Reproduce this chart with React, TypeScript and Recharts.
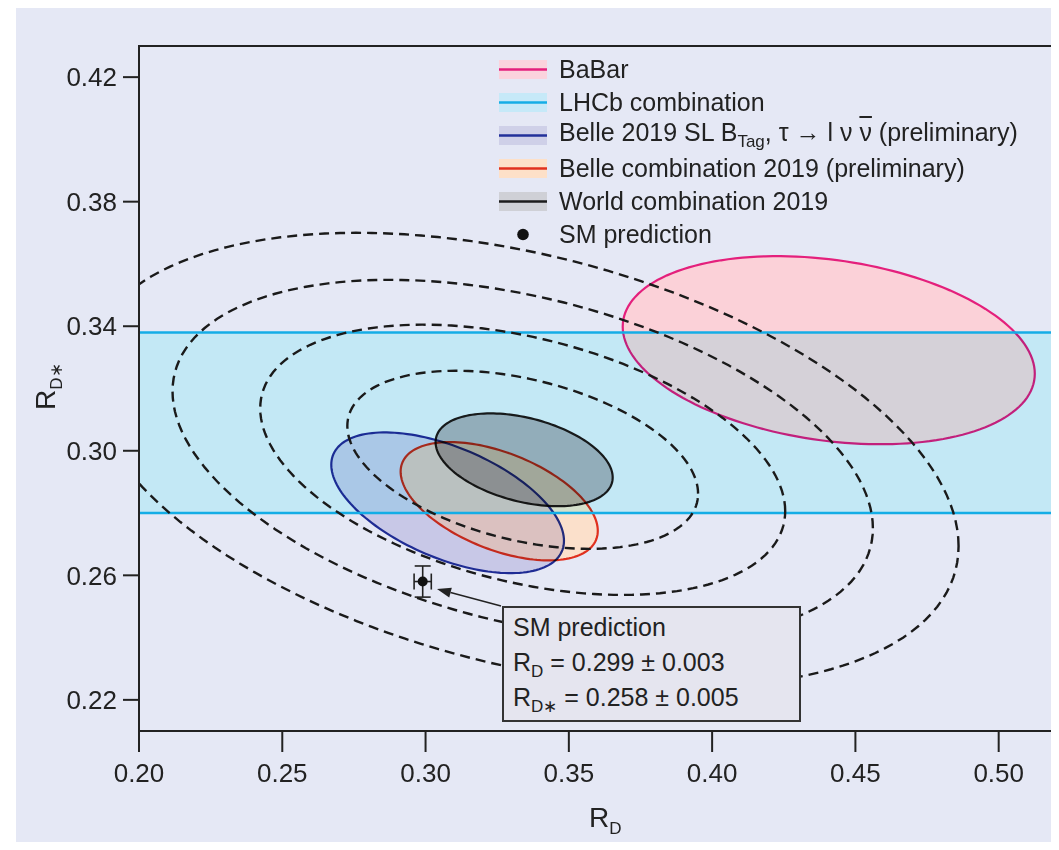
import React from "react";
import { ScatterChart, Scatter, XAxis, YAxis, CartesianGrid, ErrorBar } from "recharts";

const FONT = "'Liberation Sans', Arial, sans-serif";

const xTicks = [0.2, 0.25, 0.3, 0.35, 0.4, 0.45, 0.5];
const yTicks = [0.22, 0.26, 0.3, 0.34, 0.38, 0.42];
const xDomain = [0.2, 0.52];
const yDomain = [0.21, 0.43];

// 1 sigma ellipses: BaBar, Belle 2019 SL, Belle combination 2019, World combination 2019
const measRD = [0.4407, 0.3077, 0.3257, 0.3344];
const measRDstar = [0.3323, 0.2833, 0.2838, 0.2971];
const measErrRD = [0.0719, 0.0406, 0.0344, 0.0309];
const measErrRDstar = [0.0302, 0.0226, 0.019, 0.0149];
const measRho = [-0.25, -0.54, -0.5, -0.38];

// dashed contours around the world average
const contourRD = [0.3339, 0.3339, 0.3339, 0.3339];
const contourRDstar = [0.2971, 0.2971, 0.2971, 0.2971];
const contourErrRD = [0.0612, 0.0916, 0.1222, 0.1521];
const contourErrRDstar = [0.0286, 0.0434, 0.0578, 0.0729];
const contourRho = [-0.38, -0.38, -0.38, -0.38];

// LHCb R(D*) band
const lhcbRange = [0.28, 0.338];

const smPrediction = [{ x: 0.299, y: 0.258, ex: 0.003, ey: 0.005 }];

const legendLabels = [
  "BaBar",
  "LHCb combination",
  "Belle 2019 SL B_{Tag}, τ → l ν ~{ν} (preliminary)",
  "Belle combination 2019 (preliminary)",
  "World combination 2019",
  "SM prediction",
];

// drawing order and look of the filled ellipses
const drawOrder = [0, 2, 1, 3];
const measStyle = [
  { stroke: "#e4207c", fill: "rgba(255,205,210,0.85)", blend: "normal" },
  { stroke: "#22309a", fill: "rgb(223,220,241)", blend: "multiply" },
  { stroke: "#e0301e", fill: "rgba(255,222,195,0.85)", blend: "normal" },
  { stroke: "#1c1c1c", fill: "rgb(192,190,194)", blend: "multiply" },
];

const legendStyle = [
  { band: "#fbd3dd", line: "#e4207c" },
  { band: "#c6e9f8", line: "#14ade6" },
  { band: "#cfd0e8", line: "#22309a" },
  { band: "#fde0c8", line: "#e0301e" },
  { band: "#cfd0d6", line: "#1c1c1c" },
];

function ellipse(cx: number, cy: number, sx: number, sy: number, rho: number) {
  const pts = [];
  const k = Math.sqrt(1 - rho * rho);
  const n = 160;
  for (let i = 0; i <= n; i++) {
    const t = (2 * Math.PI * i) / n;
    pts.push({ x: cx + sx * Math.cos(t), y: cy + sy * (rho * Math.cos(t) + k * Math.sin(t)) });
  }
  return pts;
}

const bandData = [
  { x: xDomain[0], y: lhcbRange[0] },
  { x: xDomain[1], y: lhcbRange[0] },
  { x: xDomain[1], y: lhcbRange[1] },
  { x: xDomain[0], y: lhcbRange[1] },
];
const bandEdges = lhcbRange.map((y) => [
  { x: xDomain[0], y },
  { x: xDomain[1], y },
]);

const poly =
  (stroke: string, fill: string, width: number, opts: { dash?: string; blend?: string; open?: boolean } = {}) =>
  (props: any) => {
    const pts = props.points || [];
    const d = pts.map((p: any, i: number) => `${i ? "L" : "M"}${p.x},${p.y}`).join("") + (opts.open ? "" : "Z");
    return (
      <path
        d={d}
        fill={fill}
        stroke={stroke}
        strokeWidth={width}
        strokeDasharray={opts.dash}
        style={{ mixBlendMode: (opts.blend || "normal") as any }}
      />
    );
  };

const noDot = () => <g />;
const smDot = (p: any) => <circle cx={p.cx} cy={p.cy} r={5} fill="#111" />;

function richLabel(s: string) {
  return s.split(/(_\{[^}]*\}|~\{[^}]*\})/).map((part, i) => {
    if (part.startsWith("_{"))
      return (
        <sub key={i} style={{ fontSize: 17, verticalAlign: -6 }}>
          {part.slice(2, -1)}
        </sub>
      );
    if (part.startsWith("~{"))
      return (
        <span key={i} style={{ textDecoration: "overline" }}>
          {part.slice(2, -1)}
        </span>
      );
    return <span key={i}>{part}</span>;
  });
}

function Arrow({ x1, y1, x2, y2 }: { x1: number; y1: number; x2: number; y2: number }) {
  const dx = x2 - x1,
    dy = y2 - y1;
  const len = Math.sqrt(dx * dx + dy * dy);
  const ux = dx / len,
    uy = dy / len;
  const bx = x2 - 14 * ux,
    by = y2 - 14 * uy;
  const nx = -uy * 5,
    ny = ux * 5;
  return (
    <g>
      <line x1={x1} y1={y1} x2={bx} y2={by} stroke="#222" strokeWidth={1.5} />
      <polygon points={`${x2},${y2} ${bx + nx},${by + ny} ${bx - nx},${by - ny}`} fill="#222" />
    </g>
  );
}

export default function App() {
  const axisStroke = { stroke: "#222", strokeWidth: 2 };
  const tickStyle = { fontSize: 26, fill: "#222", fontFamily: FONT };
  return (
    <div style={{ position: "relative", width: 1059, height: 850, margin: -8, background: "#fff", overflow: "hidden" }}>
      <div style={{ position: "absolute", left: 16, top: 7, right: 0, bottom: 0, background: "#e5e8f5" }} />
      <div style={{ position: "absolute", left: 0, top: 0 }}>
        <ScatterChart width={1059} height={850} margin={{ top: 46, right: 3, bottom: 59, left: 59 }}>
          <CartesianGrid fill="#e5e8f5" horizontal={false} vertical={false} />
          <XAxis
            type="number"
            dataKey="x"
            domain={xDomain}
            ticks={xTicks}
            interval={0}
            tickFormatter={(v: number) => v.toFixed(2)}
            tickSize={21}
            tickMargin={12}
            height={60}
            axisLine={axisStroke}
            tickLine={axisStroke}
            tick={tickStyle}
          />
          <XAxis xAxisId="clip" type="number" dataKey="x" domain={xDomain} allowDataOverflow hide />
          <YAxis
            type="number"
            dataKey="y"
            domain={yDomain}
            ticks={yTicks}
            interval={0}
            tickFormatter={(v: number) => v.toFixed(2)}
            tickSize={16}
            tickMargin={6}
            width={80}
            axisLine={axisStroke}
            tickLine={axisStroke}
            tick={tickStyle}
          />
          {drawOrder.map((i) => (
            <Scatter
              key={"m" + i}
              data={ellipse(measRD[i], measRDstar[i], measErrRD[i], measErrRDstar[i], measRho[i])}
              shape={noDot}
              line={poly(measStyle[i].stroke, measStyle[i].fill, 2.2, { blend: measStyle[i].blend })}
              isAnimationActive={false}
            />
          ))}
          <Scatter
            data={bandData}
            shape={noDot}
            line={poly("none", "rgb(217,255,255)", 0, { blend: "multiply" })}
            isAnimationActive={false}
          />
          {bandEdges.map((edge, i) => (
            <Scatter
              key={"e" + i}
              data={edge}
              shape={noDot}
              line={poly("#14ade6", "none", 2.5, { open: true })}
              isAnimationActive={false}
            />
          ))}
          {contourRD.map((cx, i) => (
            <Scatter
              key={"c" + i}
              xAxisId="clip"
              data={ellipse(cx, contourRDstar[i], contourErrRD[i], contourErrRDstar[i], contourRho[i])}
              shape={noDot}
              line={poly("#1a1a1a", "none", 2.4, { dash: "10 6" })}
              isAnimationActive={false}
            />
          ))}
          <Scatter data={smPrediction} shape={smDot} isAnimationActive={false}>
            <ErrorBar dataKey="ex" direction="x" width={8} stroke="#222" strokeWidth={1.6} isAnimationActive={false} />
            <ErrorBar dataKey="ey" direction="y" width={8} stroke="#222" strokeWidth={1.6} isAnimationActive={false} />
          </Scatter>
        </ScatterChart>
      </div>

      <svg width={1059} height={850} style={{ position: "absolute", left: 0, top: 0, pointerEvents: "none" }}>
        <rect x={139} y={46} width={917} height={685} fill="none" stroke="#222" strokeWidth={2} />
        <text x={589} y={827} fontSize={28} fill="#222" fontFamily={FONT}>
          R<tspan fontSize={17} dy={7}>D</tspan>
        </text>
        <text transform="translate(55,410) rotate(-90)" fontSize={28} fill="#222" fontFamily={FONT}>
          R<tspan fontSize={17} dy={7}>D∗</tspan>
        </text>
        <Arrow x1={501} y1={606} x2={437} y2={589} />
        <rect x={503} y={607} width={297} height={114} fill="#e5e5ef" stroke="#333" strokeWidth={2} />
        <g fontSize={25} fill="#222" fontFamily={FONT}>
          <text x={513} y={636}>SM prediction</text>
          <text x={513} y={671}>
            R<tspan fontSize={17} dy={6}>D</tspan>
            <tspan dy={-6}> = 0.299 ± 0.003</tspan>
          </text>
          <text x={513} y={706}>
            R<tspan fontSize={17} dy={6}>D∗</tspan>
            <tspan dy={-6}> = 0.258 ± 0.005</tspan>
          </text>
        </g>
      </svg>

      <div style={{ position: "absolute", left: 499, top: 52.5, fontFamily: FONT, fontSize: 25, color: "#222" }}>
        {legendLabels.map((label, i) => (
          <div key={i} style={{ height: 33, display: "flex", alignItems: "center" }}>
            <svg width={48} height={19} style={{ flex: "none" }}>
              {legendStyle[i] ? (
                <g>
                  <rect x={0} y={0} width={48} height={19} fill={legendStyle[i].band} />
                  <line x1={0} y1={9.5} x2={48} y2={9.5} stroke={legendStyle[i].line} strokeWidth={2.5} />
                </g>
              ) : (
                <circle cx={24} cy={9.5} r={5.8} fill="#111" />
              )}
            </svg>
            <span style={{ marginLeft: 12, lineHeight: 1, whiteSpace: "nowrap" }}>{richLabel(label)}</span>
          </div>
        ))}
      </div>
    </div>
  );
}
